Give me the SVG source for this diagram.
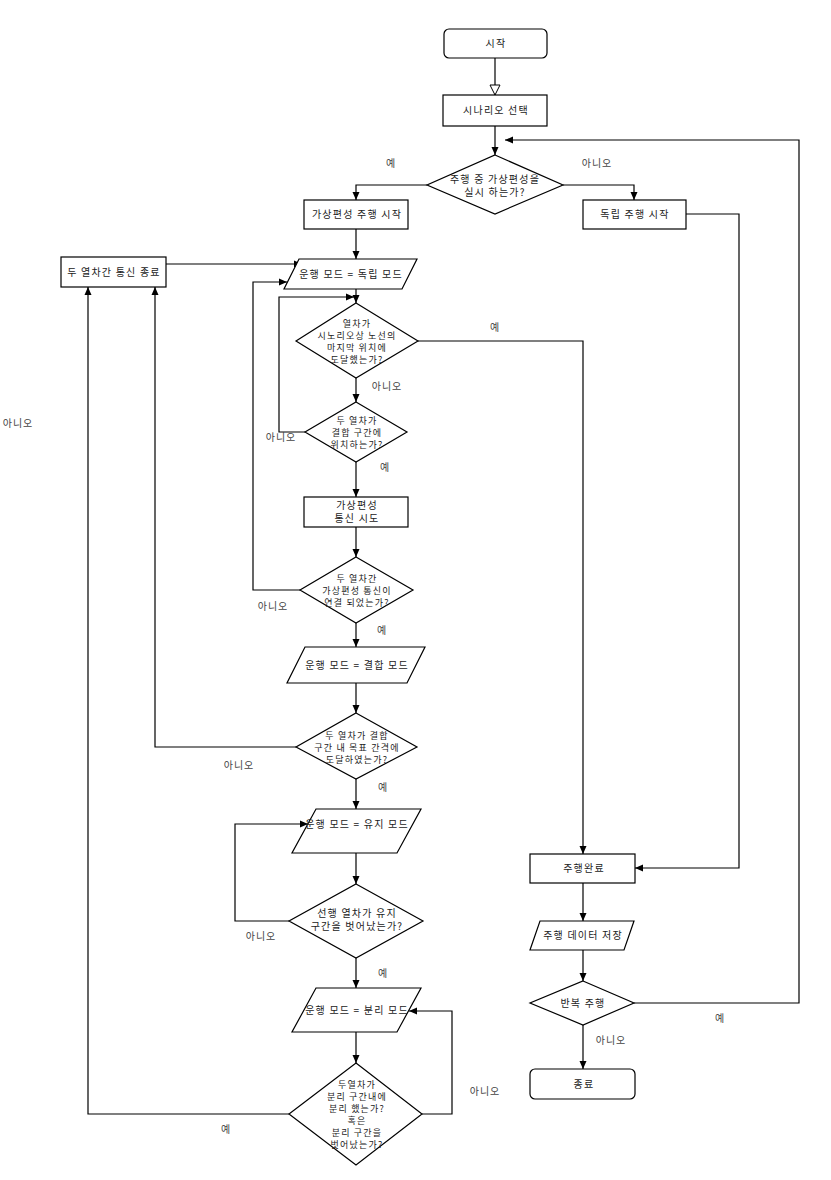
<svg xmlns="http://www.w3.org/2000/svg" width="831" height="1180" viewBox="0 0 831 1180">
<style>
.n{fill:#fff;stroke:#000;stroke-width:1.2}
.t{font-family:"Noto Sans CJK KR","Noto Sans",sans-serif;font-size:10px;letter-spacing:1.2px;fill:#222;text-anchor:middle}
.s{font-size:9px}
.l{font-family:"Noto Sans CJK KR","Noto Sans",sans-serif;font-size:10px;letter-spacing:1px;fill:#444;text-anchor:middle}
.c{fill:none;stroke:#000;stroke-width:1.2}
</style>
<defs>
<marker id="a" markerUnits="userSpaceOnUse" markerWidth="8" markerHeight="8" refX="8" refY="4" orient="auto"><path d="M0,0.5 L8,4 L0,7.5 z" fill="#000"/></marker>
<marker id="h" markerUnits="userSpaceOnUse" markerWidth="12" markerHeight="12" refX="11" refY="6" orient="auto"><path d="M1,1 L11,6 L1,11 z" fill="#fff" stroke="#000" stroke-width="1"/></marker>
</defs>
<rect width="831" height="1180" fill="#fff"/>
<g id="connectors">
<path class="c" d="M495,58 V95" marker-end="url(#h)"/>
<path class="c" d="M495,126 V155" marker-end="url(#a)"/>
<path class="c" d="M427,185 H356 V200" marker-end="url(#a)"/>
<path class="c" d="M563,185 H634 V200" marker-end="url(#a)"/>
<path class="c" d="M356,229 V259" marker-end="url(#a)"/>
<path class="c" d="M166,264 H302" marker-end="url(#a)"/>
<path class="c" d="M300,590 H253 V282 H287" marker-end="url(#a)"/>
<path class="c" d="M356,289 V303" marker-end="url(#a)"/>
<path class="c" d="M305,432 H279 V297 H354" marker-end="url(#a)"/>
<path class="c" d="M418,341 H583 V854" marker-end="url(#a)"/>
<path class="c" d="M356,378 V402" marker-end="url(#a)"/>
<path class="c" d="M356,462 V497" marker-end="url(#a)"/>
<path class="c" d="M356,527 V557" marker-end="url(#a)"/>
<path class="c" d="M356,623 V647" marker-end="url(#a)"/>
<path class="c" d="M356,683 V713" marker-end="url(#a)"/>
<path class="c" d="M296,747 H155 V287" marker-end="url(#a)"/>
<path class="c" d="M356,779 V809" marker-end="url(#a)"/>
<path class="c" d="M356,853 V884" marker-end="url(#a)"/>
<path class="c" d="M289,921 H235 V824 H308" marker-end="url(#a)"/>
<path class="c" d="M356,958 V988" marker-end="url(#a)"/>
<path class="c" d="M356,1032 V1063" marker-end="url(#a)"/>
<path class="c" d="M422,1114 H452 V1011 H409" marker-end="url(#a)"/>
<path class="c" d="M289,1114 H88 V287" marker-end="url(#a)"/>
<path class="c" d="M686,214 H739 V868 H635" marker-end="url(#a)"/>
<path class="c" d="M583,883 V921" marker-end="url(#a)"/>
<path class="c" d="M583,950 V981" marker-end="url(#a)"/>
<path class="c" d="M634,1003 H799 V140 H505" marker-end="url(#a)"/>
<path class="c" d="M583,1025 V1069" marker-end="url(#a)"/>
</g>
<g id="labels">
<text class="l" x="391" y="167">예</text>
<text class="l" x="597" y="167">아니오</text>
<text class="l" x="495" y="331">예</text>
<text class="l" x="387" y="390">아니오</text>
<text class="l" x="281" y="441">아니오</text>
<text class="l" x="385" y="471">예</text>
<text class="l" x="273" y="610">아니오</text>
<text class="l" x="382" y="634">예</text>
<text class="l" x="239" y="769">아니오</text>
<text class="l" x="383" y="791">예</text>
<text class="l" x="261" y="940">아니오</text>
<text class="l" x="383" y="977">예</text>
<text class="l" x="485" y="1095">아니오</text>
<text class="l" x="226" y="1133">예</text>
<text class="l" x="720" y="1022">예</text>
<text class="l" x="611" y="1044">아니오</text>
<text class="l" x="18" y="427">아니오</text>
</g>
<g id="start"><rect class="n" x="444" y="29" width="103" height="29" rx="5"/><text class="t" x="496" y="47">시작</text></g>
<g id="scenario"><rect class="n" x="443" y="95" width="104" height="31"/><text class="t" x="496" y="114">시나리오 선택</text></g>
<g id="d1"><polygon class="n" points="495,155 563,185 495,214 427,185"/><text class="t" x="495" y="183">주행 중 가상편성을</text><text class="t" x="495" y="196">실시 하는가?</text></g>
<g id="vstart"><rect class="n" x="304" y="200" width="104" height="29"/><text class="t" x="357" y="218">가상편성 주행 시작</text></g>
<g id="istart"><rect class="n" x="583" y="200" width="103" height="29"/><text class="t" x="635" y="218">독립 주행 시작</text></g>
<g id="commend"><rect class="n" x="61" y="257" width="105" height="30"/><text class="t" x="114" y="276">두 열차간 통신 종료</text></g>
<g id="pind"><polygon class="n" points="299,259 417,259 402,289 284,289"/><text class="t" x="351" y="278">운행 모드 = 독립 모드</text></g>
<g id="d2"><polygon class="n" points="356,303 418,341 356,378 296,341"/><text class="t s" x="357" y="326.5">열차가</text><text class="t s" x="357" y="338.5">시노리오상 노선의</text><text class="t s" x="357" y="350.5">마지막 위치에</text><text class="t s" x="357" y="362.5">도달했는가?</text></g>
<g id="d3"><polygon class="n" points="356,402 407,432 356,462 305,432"/><text class="t s" x="357" y="423.5">두 열차가</text><text class="t s" x="357" y="435.5">결합 구간에</text><text class="t s" x="357" y="447.5">위치하는가?</text></g>
<g id="vtry"><rect class="n" x="304" y="497" width="104" height="30"/><text class="t" x="357" y="509">가상편성</text><text class="t" x="357" y="522">통신 시도</text></g>
<g id="d4"><polygon class="n" points="356,557 413,590 356,623 300,590"/><text class="t s" x="357" y="581.5">두 열차간</text><text class="t s" x="357" y="593.5">가상편성 통신이</text><text class="t s" x="357" y="605.5">연결 되었는가?</text></g>
<g id="pcpl"><polygon class="n" points="305,647 425,647 407,683 287,683"/><text class="t" x="357" y="669">운행 모드 = 결합 모드</text></g>
<g id="d5"><polygon class="n" points="356,713 417,747 356,779 296,747"/><text class="t s" x="357" y="738.5">두 열차가 결합</text><text class="t s" x="357" y="750.5">구간 내 목표 간격에</text><text class="t s" x="357" y="762.5">도달하였는가?</text></g>
<g id="pkeep"><polygon class="n" points="316,809 421,809 397,853 292,853"/><text class="t" x="357" y="828">운행 모드 = 유지 모드</text></g>
<g id="d6"><polygon class="n" points="356,884 423,921 356,958 289,921"/><text class="t" x="357" y="917">선행 열차가 유지</text><text class="t" x="357" y="930">구간을 벗어났는가?</text></g>
<g id="psep"><polygon class="n" points="316,988 421,988 397,1032 292,1032"/><text class="t" x="357" y="1014">운행 모드 = 분리 모드</text></g>
<g id="d7"><polygon class="n" points="356,1063 422,1114 356,1165 289,1114"/><text class="t s" x="357" y="1087.5">두열차가</text><text class="t s" x="357" y="1099.5">분리 구간내에</text><text class="t s" x="357" y="1111.5">분리 했는가?</text><text class="t s" x="357" y="1123.5">혹은</text><text class="t s" x="357" y="1135.5">분리 구간을</text><text class="t s" x="357" y="1147.5">벗어났는가?</text></g>
<g id="done"><rect class="n" x="530" y="854" width="105" height="29"/><text class="t" x="584" y="872">주행완료</text></g>
<g id="save"><polygon class="n" points="540,921 634,921 624,950 530,950"/><text class="t" x="583" y="939">주행 데이터 저장</text></g>
<g id="repeat"><polygon class="n" points="583,981 634,1003 583,1025 530,1003"/><text class="t" x="583" y="1007">반복 주행</text></g>
<g id="end"><rect class="n" x="530" y="1069" width="105" height="30" rx="5"/><text class="t" x="584" y="1088">종료</text></g>
</svg>
